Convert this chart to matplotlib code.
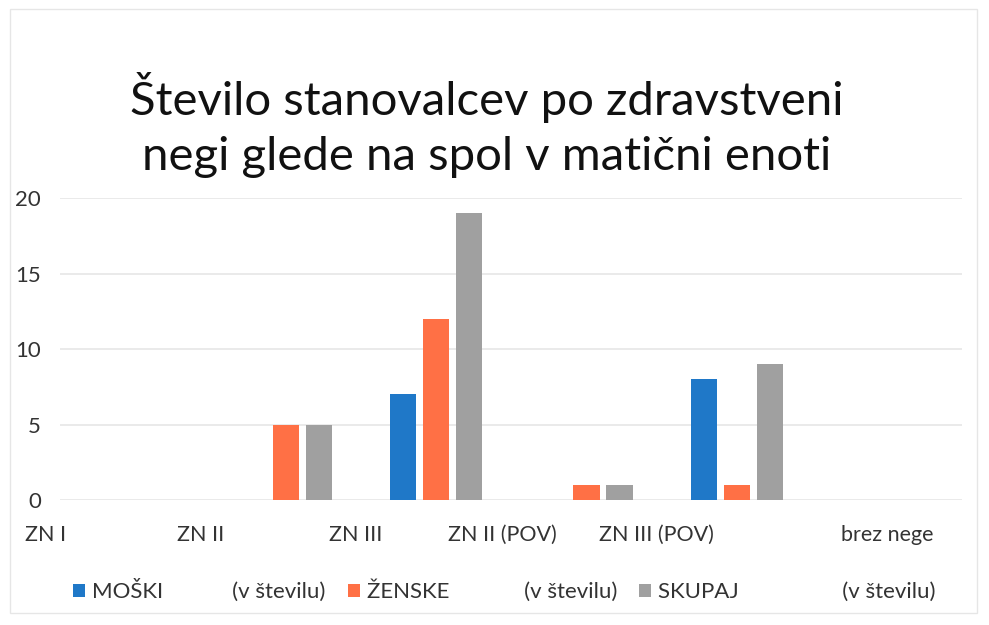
import matplotlib.pyplot as plt
import matplotlib.transforms as mtransforms
from matplotlib.patches import Rectangle
import numpy as np

plt.rcParams['font.family'] = ['Lato', 'DejaVu Sans']

# data
categories = ['ZN I', 'ZN II', 'ZN III', 'ZN II (POV)', 'ZN III (POV)', 'brez nege']
moski = [0, 0, 7, 0, 8, 0]
zenske = [0, 5, 12, 1, 1, 0]
skupaj = [0, 5, 19, 1, 9, 0]
series_names = ['MOŠKI' + ' ' * 12 + '(v številu)',
                'ŽENSKE' + ' ' * 13 + '(v številu)',
                'SKUPAJ' + ' ' * 18 + '(v številu)']

colors = ['#1f78c8', '#ff7045', '#a0a0a0']
# the scanned chart draws its category labels shifted left of the bar groups
label_shift_px = [-90, -85, -80, -84, -80, 0]

fig = plt.figure(figsize=(9.89, 6.25), dpi=100)
ax = fig.add_axes([0.061, 0.2, 0.912, 0.483])

x = np.arange(len(categories))
step = 0.22
for i, (vals, c, name) in enumerate(zip([moski, zenske, skupaj], colors, series_names)):
    ax.bar(x + (i - 1) * step, vals, width=step * 0.8, color=c, label=name, zorder=3)

ax.set_xlim(-0.5, len(categories) - 0.5)
ax.set_ylim(0, 20)
ax.set_yticks([0, 5, 10, 15, 20])
ax.yaxis.grid(True, color='#e6e6e6', linewidth=1.2, zorder=0)
ax.tick_params(axis='y', length=0, labelsize=16, pad=14, colors='#333333')
ax.tick_params(axis='x', length=0, labelsize=15.5, pad=18, colors='#333333')
for s in ax.spines.values():
    s.set_visible(False)

ax.set_xticks(x)
ax.set_xticklabels(categories)
for lab, dx in zip(ax.get_xticklabels(), label_shift_px):
    lab.set_transform(lab.get_transform() + mtransforms.ScaledTranslation(dx / 100, 0, fig.dpi_scale_trans))

fig.text(0.492, 0.80, 'Število stanovalcev po zdravstveni\nnegi glede na spol v matični enoti',
         ha='center', va='center', fontsize=34, linespacing=1.4, color='#111111')

fig.legend(loc='center', bbox_to_anchor=(0.51, 0.055), ncol=3, frameon=False,
           fontsize=16, handlelength=0.55, handleheight=0.55, handletextpad=0.3,
           columnspacing=1.0, labelcolor='#333333')

fig.patches.append(Rectangle((0.01, 0.02), 0.978, 0.965, transform=fig.transFigure,
                             fill=False, edgecolor='#e6e6e6', linewidth=1))

fig.savefig('out.png', dpi=100)
